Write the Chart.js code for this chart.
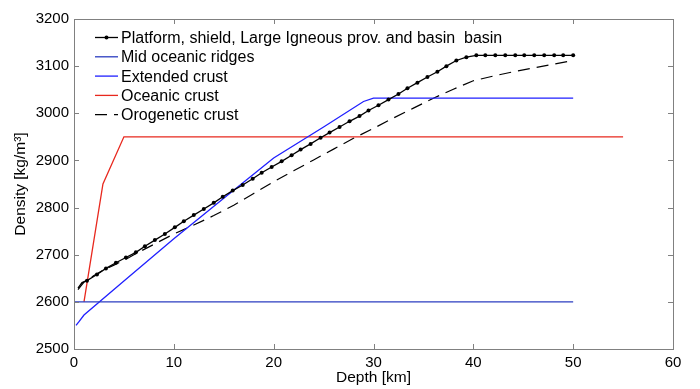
<!DOCTYPE html>
<html>
<head>
<meta charset="utf-8">
<script src="https://cdn.jsdelivr.net/npm/chart.js@4.4.0/dist/chart.umd.min.js"></script>
<style>
  html, body { margin: 0; padding: 0; background: #fff; }
  #grafico { display: block; }
</style>
</head>
<body>
<canvas id="grafico" width="700" height="389"></canvas>
<script>
// datos (profundidad en km, densidad en kg/m3)
const platformDepth = [0.4, 0.8,
  1.3, 2.3, 3.2, 4.2, 5.2, 6.2, 7.1, 8.1, 9.1, 10.1,
  11.0, 12.0, 13.0, 14.0, 14.9, 15.9, 16.9, 17.9, 18.8, 19.8,
  20.8, 21.8, 22.7, 23.7, 24.7, 25.6, 26.6, 27.6, 28.6, 29.5,
  30.5, 31.5, 32.5, 33.4, 34.4, 35.4, 36.4, 37.3, 38.3, 39.3,
  40.3, 41.2, 42.2, 43.2, 44.2, 45.1, 46.1, 47.1, 48.1, 49.0, 50.0];
const platformDensity = [2629, 2641,
  2645, 2658, 2671, 2683, 2694, 2705, 2718, 2731, 2744, 2758,
  2771, 2784, 2797, 2810, 2823, 2836, 2848, 2861, 2874, 2886,
  2898, 2911, 2923, 2935, 2948, 2959, 2971, 2983, 2994, 3006,
  3017, 3029, 3041, 3053, 3065, 3077, 3088, 3100, 3112, 3119,
  3123, 3123, 3123, 3123, 3123, 3123, 3123, 3123, 3123, 3123, 3123];

const midDepth = [0, 50];
const midDensity = [2600, 2600];

const extendedDepth = [0.2, 0.5, 1, 5, 10, 15, 20, 25, 29, 30, 50];
const extendedDensity = [2550, 2558, 2572, 2644, 2734, 2820, 2905, 2971, 3025, 3032, 3032];

const oceanicDepth = [1, 2.9, 5, 55];
const oceanicDensity = [2600, 2850, 2950, 2950];

const orogenDepth = [0.4, 1, 2, 3, 4, 5, 6, 8, 10, 12, 14, 16, 18, 20, 22, 24, 26, 28, 30, 32, 34, 36, 38, 40, 42, 44, 46, 48, 50];
const orogenDensity = [2626, 2642, 2656, 2668, 2678, 2688, 2700, 2722, 2744, 2763, 2783, 2805, 2830, 2855, 2878, 2901, 2924, 2947, 2968, 2990, 3011, 3032, 3051, 3069, 3079, 3088, 3096, 3104, 3112];

const etiquetas = [
  "Platform, shield, Large Igneous prov. and basin  basin",
  "Mid oceanic ridges",
  "Extended crust",
  "Oceanic crust",
  "Orogenetic crust"
];

const fuente = "'Liberation Sans', Arial, Helvetica, sans-serif";

function puntos(xs, ys) {
  return xs.map((x, i) => ({ x: x, y: ys[i] }));
}

// marco gris con ticks hacia dentro (estilo matlab)
const marcoEjes = {
  id: 'marcoEjes',
  afterDatasetsDraw(chart) {
    const { ctx, chartArea: a, scales: { x, y } } = chart;
    ctx.save();
    ctx.strokeStyle = '#808080';
    ctx.lineWidth = 1;
    ctx.beginPath();
    x.ticks.forEach(t => {
      const px = Math.round(x.getPixelForValue(t.value)) + 0.5;
      ctx.moveTo(px, a.bottom); ctx.lineTo(px, a.bottom - 5);
      ctx.moveTo(px, a.top); ctx.lineTo(px, a.top + 5);
    });
    y.ticks.forEach(t => {
      const py = Math.round(y.getPixelForValue(t.value)) + 0.5;
      ctx.moveTo(a.left, py); ctx.lineTo(a.left + 5, py);
      ctx.moveTo(a.right, py); ctx.lineTo(a.right - 5, py);
    });
    ctx.stroke();
    ctx.strokeRect(Math.round(a.left) + 0.5, Math.round(a.top) + 0.5,
      Math.round(a.right - a.left), Math.round(a.bottom - a.top));
    ctx.restore();
  }
};

// leyenda dentro del area, arriba a la izquierda
const leyenda = {
  id: 'leyenda',
  afterDraw(chart) {
    const ctx = chart.ctx;
    const x0 = 95, x1 = 118, xt = 121;
    ctx.save();
    ctx.font = '16px ' + fuente;
    ctx.textBaseline = 'middle';
    chart.data.datasets.forEach((ds, i) => {
      const yy = 37.5 + i * 19.3;
      ctx.strokeStyle = ds.borderColor;
      ctx.lineWidth = ds.borderWidth;
      ctx.setLineDash(ds.borderDash || []);
      ctx.beginPath();
      ctx.moveTo(x0, yy);
      ctx.lineTo(x1, yy);
      ctx.stroke();
      ctx.setLineDash([]);
      if (i === 0) {
        ctx.fillStyle = ds.borderColor;
        ctx.beginPath();
        ctx.arc((x0 + x1) / 2, yy, 2, 0, Math.PI * 2);
        ctx.fill();
      }
      ctx.fillStyle = '#000';
      ctx.fillText(ds.label, xt, yy + 1);
    });
    ctx.restore();
  }
};

new Chart(document.getElementById('grafico'), {
  type: 'scatter',
  data: {
    datasets: [
      {
        label: etiquetas[0],
        data: puntos(platformDepth, platformDensity),
        showLine: true,
        borderColor: '#000000',
        backgroundColor: '#000000',
        borderWidth: 1.3,
        pointRadius: (c) => c.dataIndex < 2 ? 0 : 2,
        pointBorderWidth: 0,
        order: 0
      },
      {
        label: etiquetas[1],
        data: puntos(midDepth, midDensity),
        showLine: true,
        borderColor: '#2b3dc0',
        borderWidth: 1.3,
        pointRadius: 0
      },
      {
        label: etiquetas[2],
        data: puntos(extendedDepth, extendedDensity),
        showLine: true,
        borderColor: '#1f1fff',
        borderWidth: 1.3,
        pointRadius: 0
      },
      {
        label: etiquetas[3],
        data: puntos(oceanicDepth, oceanicDensity),
        showLine: true,
        borderColor: '#e8281e',
        borderWidth: 1.3,
        pointRadius: 0
      },
      {
        label: etiquetas[4],
        data: puntos(orogenDepth, orogenDensity),
        showLine: true,
        borderColor: '#000000',
        borderWidth: 1.2,
        borderDash: [12, 7],
        pointRadius: 0
      }
    ]
  },
  options: {
    responsive: false,
    devicePixelRatio: 1,
    animation: false,
    layout: { padding: { top: 19, right: 27, left: 0, bottom: 0 } },
    elements: { line: { tension: 0 } },
    plugins: {
      legend: { display: false },
      tooltip: { enabled: false }
    },
    scales: {
      x: {
        type: 'linear',
        min: 0,
        max: 60,
        grid: { display: false, drawTicks: false },
        border: { display: false },
        ticks: {
          stepSize: 10, padding: 5, color: '#000',
          font: { family: fuente, size: 15 },
          callback: (v) => String(v)
        },
        title: {
          display: true,
          text: 'Depth [km]',
          color: '#000',
          font: { family: fuente, size: 15.5 },
          padding: { top: 0, bottom: 2 }
        },
        afterFit: (s) => { s.height = 40; }
      },
      y: {
        type: 'linear',
        min: 2500,
        max: 3200,
        grid: { display: false, drawTicks: false },
        border: { display: false },
        ticks: {
          stepSize: 100, padding: 5, color: '#000',
          font: { family: fuente, size: 15 },
          callback: (v) => String(v)
        },
        title: {
          display: true,
          text: 'Density [kg/m³]',
          color: '#000',
          font: { family: fuente, size: 15.5 },
          padding: { top: 11, bottom: 0 }
        },
        afterFit: (s) => { s.width = 74; }
      }
    }
  },
  plugins: [marcoEjes, leyenda]
});
</script>
</body>
</html>
